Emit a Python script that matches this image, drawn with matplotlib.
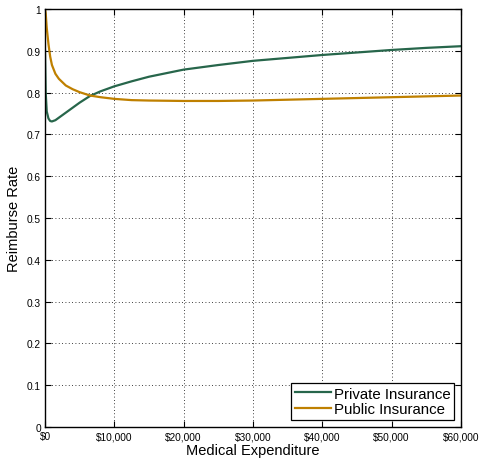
import matplotlib
matplotlib.use("Agg")
import matplotlib.pyplot as plt
from matplotlib.ticker import FuncFormatter

# values
expenditure = [0, 100, 250, 500, 750, 1000, 1500, 2000, 3000, 4000, 5000, 6500,
               8000, 10000, 12500, 15000, 20000, 25000, 30000, 35000, 40000,
               45000, 50000, 55000, 60000]
private_rate = [0.90, 0.80, 0.755, 0.738, 0.732, 0.731, 0.734, 0.740, 0.752, 0.764,
                0.776, 0.792, 0.803, 0.815, 0.827, 0.838, 0.855, 0.866, 0.876,
                0.883, 0.890, 0.896, 0.902, 0.907, 0.911]
public_rate = [1.0, 0.99, 0.955, 0.916, 0.886, 0.866, 0.845, 0.833, 0.817, 0.808,
               0.801, 0.793, 0.789, 0.785, 0.782, 0.781, 0.780, 0.780, 0.781,
               0.783, 0.785, 0.787, 0.789, 0.791, 0.793]
x_ticks = [0, 10000, 20000, 30000, 40000, 50000, 60000]
y_ticks = [0, 0.1, 0.2, 0.3, 0.4, 0.5, 0.6, 0.7, 0.8, 0.9, 1]

plt.rcParams['font.family'] = ['Liberation Sans', 'DejaVu Sans']

fig = plt.figure(figsize=(4.79, 4.60), dpi=100)
ax = fig.add_axes([45 / 479, 1 - 428 / 460, 416 / 479, 418 / 460])

ax.plot(expenditure, private_rate, color='#27664b', lw=1.6, label='Private Insurance')
ax.plot(expenditure, public_rate, color='#bf8000', lw=1.6, label='Public Insurance')

ax.set_xlim(0, 60000)
ax.set_ylim(0, 1)
ax.set_xticks(x_ticks)
ax.set_yticks(y_ticks)
ax.xaxis.set_major_formatter(FuncFormatter(lambda v, p: '${:,.0f}'.format(v)))
ax.yaxis.set_major_formatter(FuncFormatter(lambda v, p: '{:g}'.format(v)))
ax.tick_params(direction='in', length=4, width=0.8, labelsize=7.3, top=True, right=True,
               pad=3)
ax.grid(True, color='black', linestyle=(0, (1, 3)), linewidth=0.6)
for s in ax.spines.values():
    s.set_linewidth(1.0)

ax.set_xlabel('Medical Expenditure', fontsize=10.5, labelpad=1)
ax.set_ylabel('Reimburse Rate', fontsize=10.5, labelpad=4)

leg = ax.legend(loc='lower right', fontsize=10.8, frameon=True, fancybox=False,
                handlelength=2.4, handletextpad=0.2, borderpad=0.25,
                labelspacing=0.12, borderaxespad=0.45)
leg.get_frame().set_edgecolor('black')
leg.get_frame().set_linewidth(0.9)
leg.get_frame().set_alpha(1)

fig.savefig('out.png', dpi=100)
